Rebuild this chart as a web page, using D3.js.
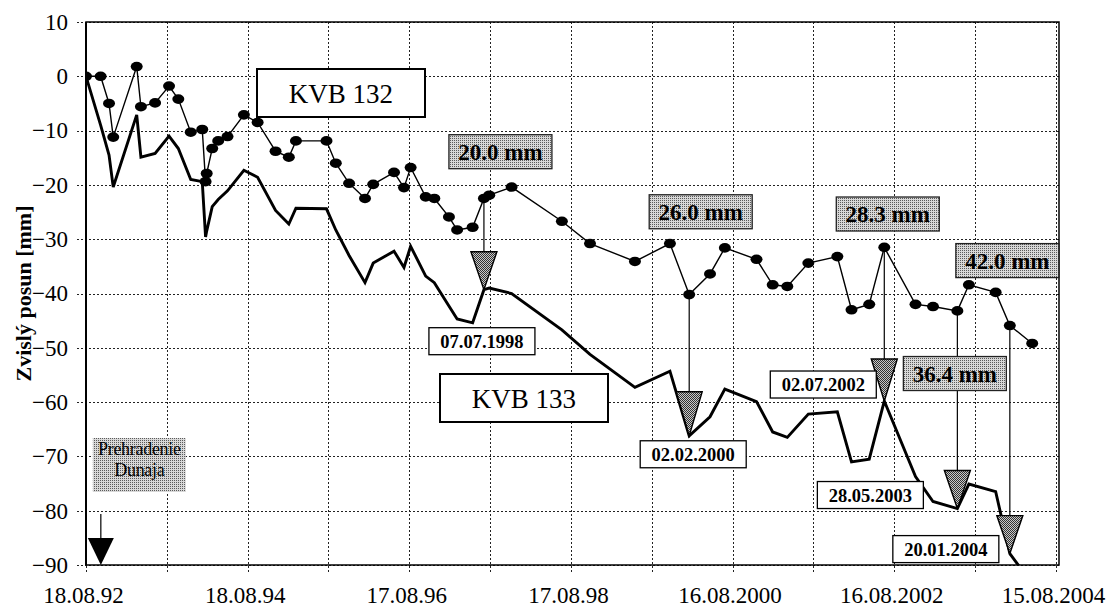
<!DOCTYPE html>
<html>
<head>
<meta charset="utf-8">
<script src="https://cdn.jsdelivr.net/npm/d3@7"></script>
<style>
  html, body { margin: 0; padding: 0; background: #fff; }
  svg { display: block; }
  text { font-family: "Liberation Serif", "Times New Roman", serif; fill: #000; }
</style>
</head>
<body>
<svg id="chart" width="1106" height="612"></svg>
<script>
// Measurement dates (dd.mm.yyyy)
const dates = [
  "18.08.1992","23.10.1992","30.11.1992","19.12.1992","04.04.1993","23.04.1993",
  "26.06.1993","28.08.1993","09.10.1993","04.12.1993","25.01.1994","09.02.1994",
  "14.02.1994","11.03.1994","07.04.1994","19.05.1994","01.08.1994","02.10.1994",
  "22.12.1994","20.02.1995","24.03.1995","09.08.1995","20.09.1995","19.11.1995",
  "30.01.1996","07.03.1996","09.06.1996","24.07.1996","23.08.1996","30.10.1996",
  "08.12.1996","12.02.1997","21.03.1997","30.05.1997","20.07.1997","13.08.1997",
  "22.11.1997","07.07.1998","11.11.1998","02.06.1999","07.11.1999","02.02.2000",
  "06.05.2000","12.07.2000","02.12.2000","13.02.2001","20.04.2001","24.07.2001",
  "02.12.2001","04.02.2002","25.04.2002","02.07.2002","20.11.2002","07.02.2003",
  "28.05.2003","19.07.2003","17.11.2003","20.01.2004","30.04.2004"
];

// Vertical displacement of benchmark KVB 132 [mm]
const kvb132 = [
  0, 0, -5.0, -11.2, 1.8, -5.6,
  -4.9, -1.8, -4.2, -10.3, -9.8, -19.4,
  -17.9, -13.3, -11.9, -11.1, -7.1, -8.5,
  -13.8, -14.9, -11.9, -11.9, -16.0, -19.7,
  -22.5, -19.9, -17.7, -20.5, -16.8, -22.2,
  -22.5, -25.9, -28.3, -27.8, -22.5, -21.9,
  -20.4, -26.7, -30.8, -34.1, -30.8, -40.2,
  -36.4, -31.6, -33.7, -38.4, -38.7, -34.4,
  -33.2, -43.0, -42.0, -31.5, -42.0, -42.4,
  -43.2, -38.4, -39.8, -45.9, -49.2
];

// Vertical displacement of benchmark KVB 133 [mm]
const kvb133 = [
  0, -9.0, -14.5, -20.4, -7.1, -14.9,
  -14.2, -11.0, -13.3, -19.0, -19.4, -29.6,
  -28.5, -24.0, -22.7, -21.1, -17.3, -18.6,
  -24.7, -27.2, -24.3, -24.4, -28.3, -33.0,
  -38.0, -34.4, -32.2, -35.2, -31.3, -36.8,
  -38.0, -42.3, -44.7, -45.4, -39.3, -39.0,
  -40.0, -46.7, -51.2, -57.3, -54.3, -66.2,
  -62.7, -57.6, -59.9, -65.5, -66.5, -62.2,
  -61.8, -71.0, -70.5, -59.8, -73.7, -78.3,
  -79.6, -75.1, -76.5, -87.9, -93.5
];

const yTicks = [10, 0, -10, -20, -30, -40, -50, -60, -70, -80, -90];
const xTickDates  = ["18.08.1992","18.08.1994","17.08.1996","17.08.1998","16.08.2000","16.08.2002","15.08.2004"];
const xTickLabels = ["18.08.92","18.08.94","17.08.96","17.08.98","16.08.2000","16.08.2002","15.08.2004"];

// Callouts: where the arrow is drawn, the date it names and the difference between the benchmarks
const calloutDates       = ["20.07.1997","02.02.2000","02.07.2002","28.05.2003","20.01.2004"];
const calloutDateLabels  = ["07.07.1998","02.02.2000","02.07.2002","28.05.2003","20.01.2004"];
const calloutValueLabels = ["20.0 mm","26.0 mm","28.3 mm","36.4 mm","42.0 mm"];

const damDate = "24.10.1992";
const damLabel = ["Prehradenie", "Dunaja"];

// ---------- layout ----------
const plot = { left: 86, top: 22, right: 1059, bottom: 565 };
// callout box offsets from the arrow tip, in pixels
const calloutLayout = [
  { triH: 38, date: [-55, 38],    value: [-35, -155] },
  { triH: 44, date: [-49, 5],     value: [-40, -241] },
  { triH: 42, date: [-114, -30],  value: [-48, -204] },
  { triH: 38, date: [-140, -27],  value: [-54, -152] },
  { triH: 38, date: [-117, -18],  value: [-54, -310] }
];

const parse = d3.utcParse("%d.%m.%Y");
const svg = d3.select("#chart");

const x = d3.scaleUtc()
  .domain([parse("18.08.1992"), parse("29.08.2004")])
  .range([plot.left, plot.right]);
const y = d3.scaleLinear().domain([-90, 10]).range([plot.bottom, plot.top]);

const series = dates.map((d, i) => ({ date: parse(d), a: kvb132[i], b: kvb133[i] }));

// ---------- patterns ----------
const defs = svg.append("defs");
function stipple(id, bg, fg, dense) {
  const p = defs.append("pattern").attr("id", id)
    .attr("patternUnits", "userSpaceOnUse").attr("width", 2).attr("height", 2);
  p.append("rect").attr("width", 2).attr("height", 2).attr("fill", bg);
  p.append("rect").attr("width", 1).attr("height", 1).attr("fill", fg);
  if (dense) p.append("rect").attr("x", 1).attr("y", 1).attr("width", 1).attr("height", 1).attr("fill", fg);
}
stipple("boxFill", "#d8d8d8", "#5a5a5a", false);
stipple("triFill", "#c8c8c8", "#333", true);
defs.append("clipPath").attr("id", "plotClip").append("rect")
  .attr("x", plot.left).attr("y", plot.top)
  .attr("width", plot.right - plot.left).attr("height", plot.bottom - plot.top);

// ---------- gridlines ----------
const start = parse(xTickDates[0]);
const gridDates = d3.range(0, 13).map(i => d3.utcDay.offset(start, 365 * i));
const grid = svg.append("g").attr("stroke", "#222").attr("stroke-width", 1)
  .attr("stroke-dasharray", "2,2").attr("fill", "none");
grid.selectAll("line.v").data(gridDates).join("line").attr("class", "v")
  .attr("x1", d => Math.round(x(d)) + 0.5).attr("x2", d => Math.round(x(d)) + 0.5)
  .attr("y1", plot.top).attr("y2", plot.bottom + 9);
grid.selectAll("line.h").data(yTicks).join("line").attr("class", "h")
  .attr("x1", plot.left - 9).attr("x2", plot.right)
  .attr("y1", d => Math.round(y(d)) + 0.5).attr("y2", d => Math.round(y(d)) + 0.5);

// ---------- frame ----------
svg.append("rect").attr("x", plot.left).attr("y", plot.top)
  .attr("width", plot.right - plot.left).attr("height", plot.bottom - plot.top)
  .attr("fill", "none").attr("stroke", "#000").attr("stroke-width", 1.5);
svg.append("line").attr("x1", plot.left).attr("x2", plot.left)
  .attr("y1", plot.top).attr("y2", plot.bottom).attr("stroke", "#000").attr("stroke-width", 2);

// ---------- axes ----------
const yAxis = d3.axisLeft(y).tickValues(yTicks).tickSize(0).tickPadding(18).tickFormat(d3.format("d"));
svg.append("g").attr("transform", `translate(${plot.left},0)`).call(yAxis)
  .call(g => g.select(".domain").remove())
  .call(g => g.selectAll("text").attr("font-size", 23));

const xAxis = d3.axisBottom(x).tickValues(xTickDates.map(parse)).tickSize(0).tickPadding(22)
  .tickFormat((d, i) => xTickLabels[i]);
svg.append("g").attr("transform", `translate(0,${plot.bottom})`).call(xAxis)
  .call(g => g.select(".domain").remove())
  .call(g => g.selectAll("text").attr("font-size", 23).attr("dx", -3));

svg.append("text")
  .attr("transform", `translate(31,${(plot.top + plot.bottom) / 2}) rotate(-90)`)
  .attr("text-anchor", "middle").attr("font-size", 22).attr("font-weight", "bold")
  .text("Zvislý posun [mm]");

// ---------- series ----------
const layer = svg.append("g").attr("clip-path", "url(#plotClip)");
layer.append("path").datum(series)
  .attr("fill", "none").attr("stroke", "#000").attr("stroke-width", 2.9).attr("stroke-linejoin", "miter")
  .attr("d", d3.line().x(d => x(d.date)).y(d => y(d.b)));
layer.append("path").datum(series)
  .attr("fill", "none").attr("stroke", "#000").attr("stroke-width", 1.4)
  .attr("d", d3.line().x(d => x(d.date)).y(d => y(d.a)));
layer.selectAll("ellipse").data(series).join("ellipse")
  .attr("cx", d => x(d.date)).attr("cy", d => y(d.a)).attr("rx", 6).attr("ry", 4.8).attr("fill", "#000");

// ---------- series name boxes ----------
function nameBox(label, bx, by) {
  const g = svg.append("g");
  g.append("rect").attr("x", bx).attr("y", by).attr("width", 168).attr("height", 48)
    .attr("fill", "#fff").attr("stroke", "#000").attr("stroke-width", 2);
  g.append("text").attr("x", bx + 84).attr("y", by + 34).attr("text-anchor", "middle")
    .attr("font-size", 27).text(label);
}
nameBox("KVB 132", 257, 69);
nameBox("KVB 133", 440, 374);

// ---------- callouts ----------
calloutDates.forEach((ds, i) => {
  const idx = dates.indexOf(ds);
  const p = series[idx];
  const L = calloutLayout[i];
  const tx = x(p.date), ty = y(p.b), top = ty - L.triH;
  const g = svg.append("g");
  g.append("line").attr("x1", tx).attr("x2", tx).attr("y1", y(p.a)).attr("y2", top)
    .attr("stroke", "#000").attr("stroke-width", 1.2);
  g.append("path").attr("d", `M${tx - 13},${top}L${tx + 13},${top}L${tx},${ty}Z`)
    .attr("fill", "url(#triFill)").attr("stroke", "#000").attr("stroke-width", 1.4);
  // date box
  const dx = tx + L.date[0], dy = ty + L.date[1];
  g.append("rect").attr("x", dx).attr("y", dy).attr("width", 106).attr("height", 27)
    .attr("fill", "#fff").attr("stroke", "#000").attr("stroke-width", 1.3);
  g.append("text").attr("x", dx + 53).attr("y", dy + 20).attr("text-anchor", "middle")
    .attr("font-size", 18.5).attr("font-weight", "bold").text(calloutDateLabels[i]);
  // difference box
  const vx = tx + L.value[0], vy = ty + L.value[1];
  g.append("rect").attr("x", vx).attr("y", vy).attr("width", 103).attr("height", 34)
    .attr("fill", "url(#boxFill)").attr("stroke", "#222").attr("stroke-width", 1.3);
  g.append("text").attr("x", vx + 51.5).attr("y", vy + 25).attr("text-anchor", "middle")
    .attr("font-size", 23).attr("font-weight", "bold").text(calloutValueLabels[i]);
});

// ---------- damming of the Danube ----------
{
  const ax = x(parse(damDate)), ay = y(-90);
  const g = svg.append("g");
  g.append("rect").attr("x", ax - 8).attr("y", ay - 127).attr("width", 93).attr("height", 54)
    .attr("fill", "url(#boxFill)");
  damLabel.forEach((t, i) => g.append("text").attr("x", ax + 38.5).attr("y", ay - 110 + i * 21)
    .attr("text-anchor", "middle").attr("font-size", 18).attr("letter-spacing", -0.3).text(t));
  g.append("line").attr("x1", ax).attr("x2", ax).attr("y1", ay - 51).attr("y2", ay - 27)
    .attr("stroke", "#000").attr("stroke-width", 1.2);
  g.append("path").attr("d", `M${ax - 13},${ay - 27}L${ax + 13},${ay - 27}L${ax},${ay}Z`).attr("fill", "#000");
}
</script>
</body>
</html>
